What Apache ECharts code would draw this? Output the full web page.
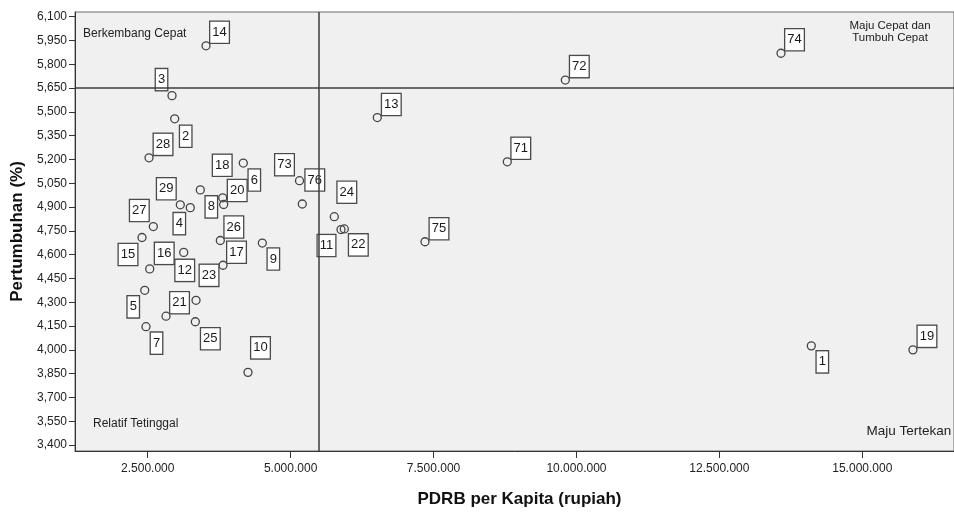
<!DOCTYPE html>
<html>
<head>
<meta charset="utf-8">
<script src="https://cdn.jsdelivr.net/npm/echarts@6/dist/echarts.min.js"></script>
<style>
html,body{margin:0;padding:0;background:#fff;}
#chart{width:954px;height:513px;}
</style>
</head>
<body>
<div id="chart"></div>
<script>
// Region (kabupaten/kota) numbers
const regionIds = [1,2,3,4,5,6,7,8,9,10,11,12,13,14,15,16,17,18,19,20,21,22,23,24,25,26,27,28,29,71,72,73,74,75,76];
// PDRB per kapita (rupiah)
const pdrbPerKapita = [14108000,2972000,2925000,3245000,2448000,4172000,2470000,3420000,4505000,4254000,
  5881000,3130000,6516000,3520000,2400000,2535000,3817000,3812000,15886000,3829000,
  2820000,5939000,3345000,5764000,3333000,3770000,2598000,2523000,3070000,
  8790000,9805000,5155000,13578000,7350000,5204000];
// Pertumbuhan (%)
const pertumbuhan = [4.025,5.456,5.602,4.896,4.375,5.177,4.146,5.008,4.673,3.858,
  4.758,4.614,5.464,5.916,4.708,4.510,4.533,4.958,4.000,4.916,
  4.212,4.762,4.312,4.839,4.177,4.689,4.777,5.210,4.914,
  5.185,5.700,5.066,5.869,4.681,4.919];
// Reference lines (averages)
const refPdrb = 5496000;
const refPertumbuhan = 5.65;
// Tick labels
const xTicks = [2500000,5000000,7500000,10000000,12500000,15000000];
const yTicks = [3.40,3.55,3.70,3.85,4.00,4.15,4.30,4.45,4.60,4.75,4.90,5.05,5.20,5.35,5.50,5.65,5.80,5.95,6.10];
// Quadrant captions
const quadrantTexts = ['Berkembang Cepat','Maju Cepat dan\nTumbuh Cepat','Relatif Tetinggal','Maju Tertekan'];
const xTitle = 'PDRB per Kapita (rupiah)';
const yTitle = 'Pertumbuhan (%)';

// label placement (pixel offsets of each id-box from its point) – styling only
const labelOffsets = [[11,16],[11,17.5],[-10.5,-16],[-11,16],[-11.5,16.5],[11,17],[10.5,16.5],[11,17],[11,16],[12.5,-24.5],
  [-14.5,16],[1,18],[14,-13],[13.5,-13.5],[-14,17],[14.5,-15.5],[13.5,-13],[-0.5,-32.5],[14,-13.5],[13.5,-14],
  [13.5,-13.5],[14,16],[13,-25],[12.5,-24.5],[15,17],[13.5,-13.5],[-14,-16],[14,-13.5],[-14,-16],
  [13.5,-13.5],[14,-13.5],[-15,-16],[13.5,-13.5],[14,-13],[12.5,-24]];

const FONT = '"Liberation Sans", Arial, sans-serif';
const fmtX = v => String(Math.round(v)).replace(/\B(?=(\d{3})+(?!\d))/g, '.');
const fmtY = v => v.toFixed(3).replace('.', ',');

const points = regionIds.map((id, i) => ({
  value: [pdrbPerKapita[i], pertumbuhan[i]],
  name: String(id),
  label: { offset: labelOffsets[i] }
}));

const chart = echarts.init(document.getElementById('chart'), null, {renderer: 'canvas'});
chart.setOption({
  animation: false,
  backgroundColor: '#ffffff',
  grid: {
    left: 75, right: 0, top: 12, bottom: 59,
    show: true, backgroundColor: '#f0f0f0', borderColor: '#6a6a6a', borderWidth: 1
  },
  xAxis: {
    type: 'value',
    min: 1228000, max: 16604000,
    name: xTitle, nameLocation: 'middle', nameGap: 40,
    nameTextStyle: { fontFamily: FONT, fontWeight: 'bold', fontSize: 17, color: '#111', padding: [0,0,0,10] },
    axisLine: { show: true, lineStyle: { color: '#333', width: 1 } },
    axisTick: { show: true, customValues: xTicks, length: 7, lineStyle: { color: '#333' } },
    axisLabel: { customValues: xTicks, formatter: fmtX, margin: 12, fontFamily: FONT, fontSize: 12, color: '#222' },
    splitLine: { show: false }
  },
  yAxis: {
    type: 'value',
    min: 3.3625, max: 6.129,
    name: yTitle, nameLocation: 'middle', nameGap: 48, nameRotate: 90,
    nameTextStyle: { fontFamily: FONT, fontWeight: 'bold', fontSize: 17, color: '#111' },
    axisLine: { show: true, lineStyle: { color: '#333', width: 1 } },
    axisTick: { show: true, customValues: yTicks, length: 6, lineStyle: { color: '#333' } },
    axisLabel: { customValues: yTicks, formatter: fmtY, margin: 8, fontFamily: FONT, fontSize: 12, color: '#222' },
    splitLine: { show: false }
  },
  series: [
    {
      type: 'scatter',
      z: 2,
      symbol: 'circle',
      symbolSize: 8,
      itemStyle: { color: 'rgba(0,0,0,0)', borderColor: '#444', borderWidth: 1.3, opacity: 1 },
      label: {
        show: true, position: 'inside', formatter: '{b}',
        fontFamily: FONT, fontSize: 13, lineHeight: 14, color: '#1a1a1a',
        backgroundColor: '#ffffff', borderColor: '#4a4a4a', borderWidth: 1.3,
        padding: [4, 2, 3, 2]
      },
      emphasis: { disabled: true },
      data: points
    },
    {
      type: 'scatter',
      z: 5,
      data: [],
      silent: true,
      markLine: {
        silent: true, symbol: 'none', animation: false,
        label: { show: false },
        lineStyle: { color: '#3c3c3c', width: 1.5, type: 'solid' },
        emphasis: { disabled: true },
        data: [ { xAxis: refPdrb }, { yAxis: refPertumbuhan } ]
      }
    }
  ],
  graphic: [
    { type: 'text', x: 83, y: 33.5, z: 10, style: { text: quadrantTexts[0], font: '12px ' + FONT, fill: '#222', align: 'left', verticalAlign: 'middle' } },
    { type: 'text', x: 890, y: 32, z: 10, style: { text: quadrantTexts[1], font: '11.5px ' + FONT, fill: '#222', align: 'center', verticalAlign: 'middle', lineHeight: 12.6 } },
    { type: 'text', x: 93, y: 423.5, z: 10, style: { text: quadrantTexts[2], font: '12px ' + FONT, fill: '#222', align: 'left', verticalAlign: 'middle' } },
    { type: 'text', x: 866.5, y: 431, z: 10, style: { text: quadrantTexts[3], font: '13.5px ' + FONT, fill: '#222', align: 'left', verticalAlign: 'middle' } }
  ]
});
</script>
</body>
</html>
